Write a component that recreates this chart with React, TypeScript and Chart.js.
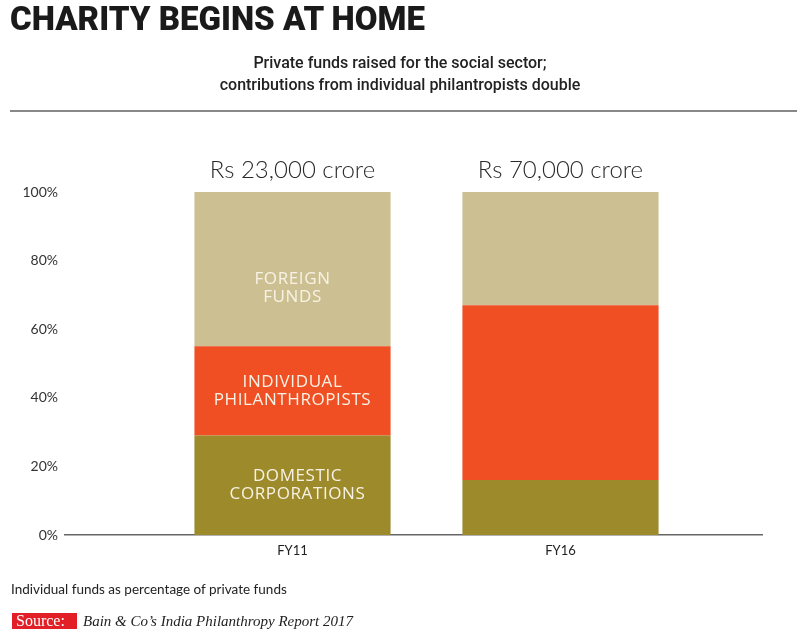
import React, { useEffect, useRef } from "react";
import { Chart, registerables } from "chart.js";

Chart.register(...registerables);

const categories = ["FY11", "FY16"];
const totalLabels = ["Rs 23,000 crore", "Rs 70,000 crore"];
const domesticCorporations = [29, 16];
const individualPhilanthropists = [26, 51];
const foreignFunds = [45, 33];
const seriesNames = ["Domestic corporations", "Individual philanthropists", "Foreign funds"];
const inBarLabels = [["DOMESTIC", "CORPORATIONS"], ["INDIVIDUAL", "PHILANTHROPISTS"], ["FOREIGN", "FUNDS"]];
const yTicks = [0, 20, 40, 60, 80, 100];

const colors = ["#9C8A2B", "#F04E23", "#CCC092"];

const labelPlugin = {
  id: "barLabels",
  afterDatasetsDraw(chart: any) {
    const ctx = chart.ctx;
    const dx = [5, 0, 0];
    const dy = [0, 0, 19];
    ctx.save();
    chart.data.datasets.forEach((ds: any, di: number) => {
      const meta = chart.getDatasetMeta(di);
      const el = meta.data[0];
      if (!el) return;
      const cy = (el.y + el.base) / 2 + dy[di];
      const lines = inBarLabels[di];
      ctx.fillStyle = "#F7F2E4";
      ctx.font = "17px 'Open Sans'";
      (ctx as any).letterSpacing = "0.6px";
      ctx.textAlign = "center";
      ctx.textBaseline = "middle";
      const lh = 18;
      lines.forEach((t: string, i: number) => {
        ctx.fillText(t, el.x + dx[di], cy + (i - (lines.length - 1) / 2) * lh);
      });
    });
    (ctx as any).letterSpacing = "0px";
    const lastMeta = chart.getDatasetMeta(chart.data.datasets.length - 1);
    lastMeta.data.forEach((el: any, i: number) => {
      ctx.fillStyle = "#2a2a2a";
      ctx.font = "300 24px Lato";
      ctx.textAlign = "center";
      ctx.textBaseline = "middle";
      ctx.fillText(totalLabels[i], el.x, el.y - 22);
    });
    ctx.restore();
  },
};

function ChartView() {
  const ref = useRef<HTMLCanvasElement>(null);
  useEffect(() => {
    const datasetsValues = [domesticCorporations, individualPhilanthropists, foreignFunds];
    const chart = new Chart(ref.current as HTMLCanvasElement, {
      type: "bar",
      data: {
        datasets: datasetsValues.map((vals, di) => ({
          label: seriesNames[di],
          data: vals.map((v, i) => ({ x: i, y: v })),
          backgroundColor: colors[di],
          borderWidth: 0,
          categoryPercentage: 1,
          barPercentage: 0.732,
        })),
      } as any,
      options: {
        responsive: false,
        animation: false,
        events: [],
        layout: { padding: { left: 0, right: 38, top: 192, bottom: 75 } },
        plugins: { legend: { display: false }, tooltip: { enabled: false } },
        scales: {
          x: {
            type: "linear",
            stacked: true,
            offset: false,
            bounds: "data",
            min: -0.849,
            max: 1.752,
            grid: { display: false, drawTicks: false, offset: false },
            border: { display: true, color: "#666666", width: 1.5 },
            afterBuildTicks: (s: any) => {
              s.ticks = categories.map((_, i) => ({ value: i }));
            },
            afterFit: (s: any) => {
              s.height = 30;
            },
            ticks: {
              callback: (v: any) => categories[v as number],
              padding: 8,
              color: "#222",
              font: { family: "Lato", size: 13 },
              autoSkip: false,
              maxRotation: 0,
            },
          },
          y: {
            stacked: true,
            min: 0,
            max: 100,
            grid: { display: false, drawTicks: false },
            border: { display: false },
            afterBuildTicks: (s: any) => {
              s.ticks = yTicks.map((v) => ({ value: v }));
            },
            afterFit: (s: any) => {
              s.width = 65;
            },
            ticks: {
              callback: (v: any) => v + "%",
              padding: 7,
              color: "#333",
              font: { family: "Lato", size: 14 },
            },
          },
        },
      } as any,
      plugins: [labelPlugin],
    });
    return () => chart.destroy();
  }, []);
  return (
    <canvas
      ref={ref}
      width={800}
      height={640}
      style={{ position: "absolute", left: 0, top: 0, width: 800, height: 640 }}
    />
  );
}

export default function App() {
  return (
    <div
      style={{
        position: "fixed",
        left: 0,
        top: 0,
        width: 800,
        height: 640,
        background: "#fff",
        overflow: "hidden",
        fontFamily: "Roboto, sans-serif",
      }}
    >
      <ChartView />
      <div
        style={{
          position: "absolute",
          left: 10,
          top: 0,
          fontFamily: "Roboto",
          fontWeight: 900,
          fontSize: 33,
          lineHeight: "38px",
          color: "#1a1a1a",
          whiteSpace: "nowrap",
        }}
      >
        CHARITY BEGINS AT HOME
      </div>
      <div
        style={{
          position: "absolute",
          left: 0,
          width: 800,
          top: 52,
          textAlign: "center",
          fontFamily: "Roboto",
          fontWeight: 500,
          fontSize: 16,
          lineHeight: "22px",
          color: "#222",
        }}
      >
        Private funds raised for the social sector;
        <br />
        contributions from individual philantropists double
      </div>
      <div
        style={{
          position: "absolute",
          left: 10,
          width: 787,
          top: 110,
          height: 2,
          background: "#888",
        }}
      />
      <div
        style={{
          position: "absolute",
          left: 11,
          top: 580,
          fontFamily: "Lato",
          fontSize: 13.5,
          lineHeight: "18px",
          color: "#222",
          whiteSpace: "nowrap",
        }}
      >
        Individual funds as percentage of private funds
      </div>
      <div
        style={{
          position: "absolute",
          left: 12,
          top: 613,
          height: 16,
          display: "flex",
          alignItems: "center",
          whiteSpace: "nowrap",
        }}
      >
        <span
          style={{
            background: "#E21F26",
            color: "#fff",
            fontFamily: "'Liberation Serif'",
            fontSize: 16,
            lineHeight: "16px",
            padding: "0 4px 0 4px",
            width: 57,
            display: "inline-block",
          }}
        >
          Source:
        </span>
        <span
          style={{
            fontFamily: "'Liberation Serif'",
            fontStyle: "italic",
            fontSize: 15,
            color: "#222",
            marginLeft: 6,
          }}
        >
          Bain &amp; Co’s India Philanthropy Report 2017
        </span>
      </div>
    </div>
  );
}
